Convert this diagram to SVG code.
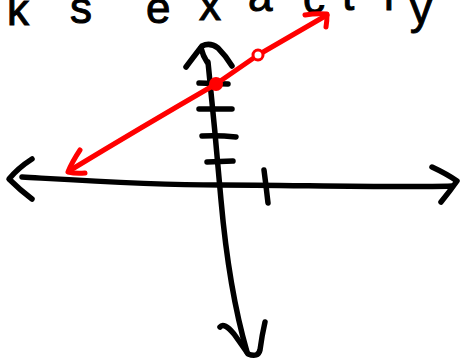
<svg xmlns="http://www.w3.org/2000/svg" width="461" height="363" viewBox="0 0 461 363">
<style>
.ink{fill:none;stroke:#000;stroke-width:5.5;stroke-linecap:round;stroke-linejoin:round}
.red{fill:none;stroke:#ff0000;stroke-width:5;stroke-linecap:round;stroke-linejoin:round}
.hand{font-family:"Liberation Sans",Arial,sans-serif;font-size:44px;fill:#000;stroke:#000;stroke-width:1}
</style>
<rect width="461" height="363" fill="#fff"/>
<text class="hand" x="7 70 110 146 199 248 303 342 384 410" y="25 23 23 23 20 11 13 10 10 24">ks exactly</text>
<g id="x-axis">
<path class="ink" d="M22,177 C90,181 150,185 220,185 S400,188 452,186"/>
<path class="ink" d="M32,159 Q18,168 9,179 Q20,190 32,199"/>
<path class="ink" d="M432,167 Q447,174 457,181 Q450,191 441,202"/>
<path class="ink" d="M264,170 Q266,185 268,203"/>
</g>
<g id="y-axis">
<path class="ink" d="M208,62 Q215,130 221,200 Q229,290 247,352"/>
<path class="ink" d="M186,67 Q195,55 202,46 Q210,42 218,48 Q226,56 232,66"/>
<path class="ink" d="M201,48 Q203,56 207,62"/>
<path class="ink" d="M199,83 L228,84"/>
<path class="ink" d="M199,109 L232,109"/>
<path class="ink" d="M202,136 Q218,135 236,137"/>
<path class="ink" d="M207,162 L233,161"/>
<path class="ink" d="M220,327 Q224,322 234,334 Q244,348 248,354 Q258,358 260,350 Q262,335 265,322"/>
</g>
<g id="red-line">
<path class="red" d="M69,171 Q140,128 216,84 L258,55 L327,15"/>
<path class="red" d="M80,150 Q72,162 68,172 Q76,174 85,173"/>
<path class="red" d="M305,15 Q316,13 327,14 Q327,21 326,27"/>
<circle cx="216" cy="84" r="7" fill="#ff0000"/>
<circle cx="258" cy="55" r="5" fill="#fff" stroke="#ff0000" stroke-width="3"/>
</g>
</svg>
